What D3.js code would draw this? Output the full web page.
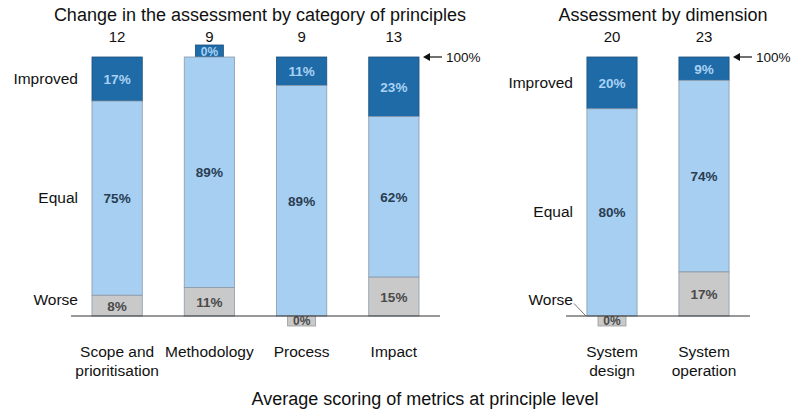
<!DOCTYPE html>
<html lang="en">
<head>
<meta charset="utf-8" />
<title>Assessment chart</title>
<script src="https://d3js.org/d3.v7.min.js"></script>
<style>
  body { margin: 0; background: #fff; }
  text { font-family: "Liberation Sans", Arial, sans-serif; }
</style>
</head>
<body>
<script>
// data
const leftCats = ["Scope and prioritisation", "Methodology", "Process", "Impact"];
const leftCatLines = [["Scope and", "prioritisation"], ["Methodology"], ["Process"], ["Impact"]];
const leftCounts = [12, 9, 9, 13];
const leftImproved = [17, 0, 11, 23];
const leftEqual = [75, 89, 89, 62];
const leftWorse = [8, 11, 0, 15];

const rightCats = ["System design", "System operation"];
const rightCatLines = [["System", "design"], ["System", "operation"]];
const rightCounts = [20, 23];
const rightImproved = [20, 9];
const rightEqual = [80, 74];
const rightWorse = [0, 17];

const rowLabels = ["Improved", "Equal", "Worse"];

const W = 793, H = 410;
const dark = "#1f6ba8", light = "#a6cff2", grey = "#c9c9c9";

const svg = d3.select("body").append("svg")
    .attr("width", W).attr("height", H);

const y = d3.scaleLinear().domain([0, 100]).range([316, 57]);

function panel(cats, lines, counts, imp, eq, wor, x0, x1, title, titleX, rowX, leader) {
    const x = d3.scaleBand().domain(cats).range([x0, x1])
        .paddingInner(0.455).paddingOuter(0.2275);
    const bw = x.bandwidth();
    const g = svg.append("g");

    g.append("text").attr("x", titleX).attr("y", 21)
        .attr("text-anchor", "middle").attr("font-size", 18).attr("fill", "#111")
        .text(title);

    cats.forEach((c, i) => {
        const bx = x(c), cx = bx + bw / 2;
        const segs = [
            { lo: 100 - imp[i], hi: 100, v: imp[i], fill: dark, tc: "#a9d2f4" },
            { lo: wor[i], hi: 100 - imp[i], v: eq[i], fill: light, tc: "#2a3d52" },
            { lo: 0, hi: wor[i], v: wor[i], fill: grey, tc: "#4a4a4a" }
        ];
        segs.forEach((s, k) => {
            if (s.v > 0) {
                g.append("rect").attr("x", bx).attr("width", bw)
                    .attr("y", y(s.hi)).attr("height", y(s.lo) - y(s.hi))
                    .attr("fill", s.fill)
                    .attr("stroke", k === 0 ? "#1a4f7a" : "#8a99a8").attr("stroke-width", 0.8);
                g.append("text").attr("x", cx).attr("y", y((s.lo + s.hi) / 2) + 5)
                    .attr("text-anchor", "middle").attr("font-size", 13.5).attr("font-weight", "bold")
                    .attr("fill", s.tc).text(s.v + "%");
            } else {
                // zero segment: small box at the edge of the bar
                const top = k === 0;
                const by = top ? y(100) - 12 : y(0);
                const bh = top ? 12 : 10;
                g.append("rect").attr("x", cx - 14).attr("width", 28)
                    .attr("y", by).attr("height", bh)
                    .attr("fill", s.fill).attr("stroke", top ? "#1a4f7a" : "#999").attr("stroke-width", 0.8);
                g.append("text").attr("x", cx).attr("y", by + bh - 1)
                    .attr("text-anchor", "middle").attr("font-size", 12).attr("font-weight", "bold")
                    .attr("fill", s.tc).text("0%");
            }
        });
        g.append("text").attr("x", cx).attr("y", 42)
            .attr("text-anchor", "middle").attr("font-size", 15).attr("fill", "#111")
            .text(counts[i]);
        lines[i].forEach((ln, j) => {
            g.append("text").attr("x", cx).attr("y", 357 + j * 19)
                .attr("text-anchor", "middle").attr("font-size", 15.5).attr("fill", "#111")
                .text(ln);
        });
    });

    // baseline
    g.append("line").attr("x1", x0).attr("x2", x1)
        .attr("y1", y(0)).attr("y2", y(0)).attr("stroke", "#333").attr("stroke-width", 1.2);

    // 100% marker
    g.append("line").attr("x1", x1 + 2).attr("x2", x1 - 13)
        .attr("y1", y(100)).attr("y2", y(100)).attr("stroke", "#111").attr("stroke-width", 1.2);
    g.append("path")
        .attr("d", `M${x1 - 17},${y(100)} l7,-4 l0,8 z`).attr("fill", "#111");
    g.append("text").attr("x", x1 + 6).attr("y", y(100) + 5)
        .attr("font-size", 13.5).attr("fill", "#111").text("100%");

    // row labels, aligned to first bar's segments
    const rowY = [y(100 - imp[0] / 2), y(wor[0] + eq[0] / 2), y(6)];
    rowLabels.forEach((r, k) => {
        g.append("text").attr("x", rowX).attr("y", rowY[k] + 5)
            .attr("text-anchor", "end").attr("font-size", 15.5).attr("fill", "#111").text(r);
    });
    if (leader) {
        g.append("line").attr("x1", rowX + 1).attr("y1", y(6) + 3)
            .attr("x2", x(cats[0]) - 1).attr("y2", y(0))
            .attr("stroke", "#555").attr("stroke-width", 0.8);
    }
}

panel(leftCats, leftCatLines, leftCounts, leftImproved, leftEqual, leftWorse,
    71, 440, "Change in the assessment by category of principles", 260, 78, false);
panel(rightCats, rightCatLines, rightCounts, rightImproved, rightEqual, rightWorse,
    566, 750, "Assessment by dimension", 663, 573, true);

svg.append("text").attr("x", 425).attr("y", 405)
    .attr("text-anchor", "middle").attr("font-size", 18).attr("fill", "#111")
    .text("Average scoring of metrics at principle level");
</script>
</body>
</html>
